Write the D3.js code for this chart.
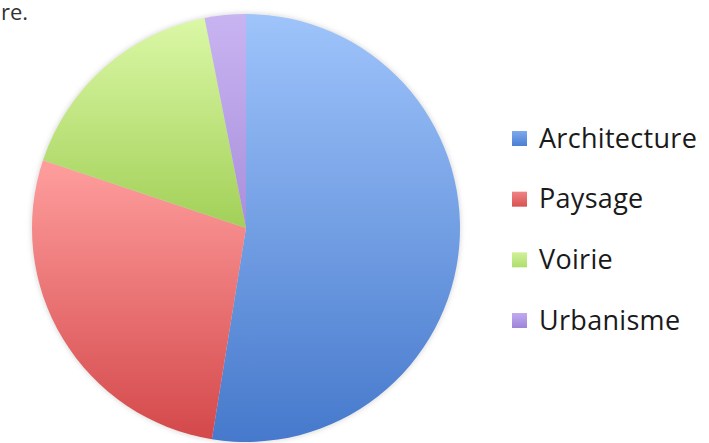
<!DOCTYPE html>
<html><head><meta charset="utf-8">
<script src="https://cdn.jsdelivr.net/npm/d3@7"></script>
<style>body{margin:0;background:#fff}svg{display:block}</style>
</head><body>
<script>
const categories = ["Architecture","Paysage","Voirie","Urbanisme"];
const values = [52.6, 27.6, 16.8, 3.1];
const topColors = ["#9fc4fb","#ff9e9e","#dbf8a6","#c9b4f2"];
const bottomColors = ["#4679cc","#d4484a","#a2d058","#a98fdb"];
const swatchTop = ["#7fa9ec","#f08484","#d0f09a","#c2aaf0"];
const swatchBottom = ["#4a7fd3","#d95252","#aede6c","#9e84d8"];

const W = 709, H = 443;
const svg = d3.select("body").append("svg").attr("width", W).attr("height", H);
const defs = svg.append("defs");

categories.forEach((c,i)=>{
  const g = defs.append("linearGradient").attr("id","g"+i).attr("x1",0).attr("y1",0).attr("x2",0).attr("y2",1);
  g.append("stop").attr("offset","0%").attr("stop-color",topColors[i]);
  g.append("stop").attr("offset","100%").attr("stop-color",bottomColors[i]);
  const s = defs.append("linearGradient").attr("id","s"+i).attr("x1",0).attr("y1",0).attr("x2",0).attr("y2",1);
  s.append("stop").attr("offset","0%").attr("stop-color",swatchTop[i]);
  s.append("stop").attr("offset","100%").attr("stop-color",swatchBottom[i]);
});
const f = defs.append("filter").attr("id","blur").attr("x","-10%").attr("y","-10%").attr("width","120%").attr("height","120%");
f.append("feGaussianBlur").attr("stdDeviation",2.5);

svg.append("text").attr("x",1).attr("y",20).attr("font-family","Open Sans, sans-serif")
  .attr("font-size",22).attr("fill","#333").text("re.");

const cx = 246, cy = 228, r = 214;
const pie = d3.pie().sort(null).value(d=>d)(values);
const arc = d3.arc().innerRadius(0).outerRadius(r);
const gp = svg.append("g").attr("transform",`translate(${cx},${cy})`);
gp.append("circle").attr("r",r+1).attr("fill","#bbb").attr("opacity",0.5).attr("filter","url(#blur)");
gp.selectAll("path.slice").data(pie).join("path").attr("class","slice")
  .attr("d",arc).attr("fill",(d,i)=>`url(#g${i})`);

const legend = svg.append("g");
const y = d3.scalePoint().domain(categories).range([138, 320]);
categories.forEach((c,i)=>{
  legend.append("rect").attr("x",512).attr("y",y(c)-7).attr("width",15).attr("height",15)
    .attr("fill",`url(#s${i})`);
  legend.append("text").attr("x",539).attr("y",y(c)).attr("dy","0.36em")
    .attr("font-family","Open Sans, sans-serif").attr("font-size",27).attr("letter-spacing",0.3)
    .attr("fill","#1a1a1a").text(c);
});
</script>
</body></html>
